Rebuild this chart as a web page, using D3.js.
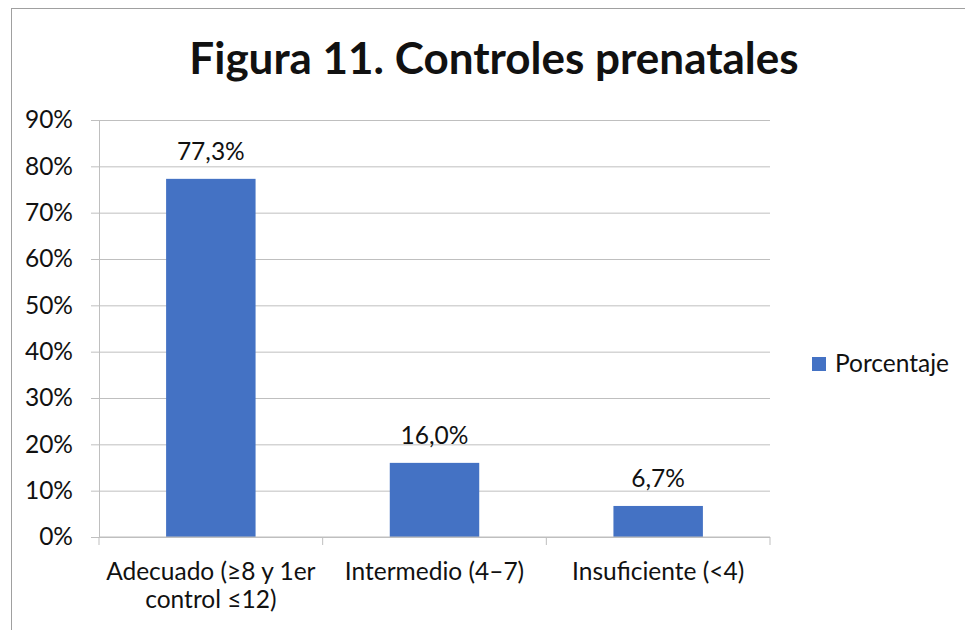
<!DOCTYPE html>
<html>
<head>
<meta charset="utf-8">
<script src="https://cdn.jsdelivr.net/npm/d3@7"></script>
<style>
  body { margin: 0; background: #fff; }
  text { font-family: Lato, "Noto Sans", sans-serif; fill: #111; }
</style>
</head>
<body>
<div class="chart"></div>
<script>
// Figura 11 - controles prenatales

const CATEGORIES = ['Adecuado (≥8 y 1er control ≤12)', 'Intermedio (4–7)', 'Insuficiente (<4)']
const VALUES = [0.773, 0.160, 0.067]
const VALUE_LABELS = ['77,3%', '16,0%', '6,7%']
const Y_TICKS = [0, 0.1, 0.2, 0.3, 0.4, 0.5, 0.6, 0.7, 0.8, 0.9]
const SERIES = 'Porcentaje'
const TITLE = 'Figura 11. Controles prenatales'

var svgWidth = 965
var svgHeight = 630

var margin = {
    top: 120,
    left: 99,
    right: 195,
    bottom: 93
}

var width = svgWidth - margin.left - margin.right
var height = svgHeight - margin.top - margin.bottom

var svg = d3.select('.chart')
    .append('svg')
    .attr('width', svgWidth)
    .attr('height', svgHeight)

svg.append('rect')
    .attr('width', svgWidth)
    .attr('height', svgHeight)
    .attr('fill', '#fff')

// chart frame (runs off the picture at right and bottom)
svg.append('rect')
    .attr('x', 11.5)
    .attr('y', 8.5)
    .attr('width', 1000)
    .attr('height', 1000)
    .attr('fill', 'none')
    .attr('stroke', '#a0a0a0')
    .attr('stroke-width', 1)

svg.append('text')
    .attr('x', 494)
    .attr('y', 74)
    .attr('text-anchor', 'middle')
    .attr('font-size', '44px')
    .attr('font-weight', 'bold')
    .text(TITLE)

var chartGroup = svg.append('g')
    .attr('transform', `translate(${margin.left}, ${margin.top})`)

var yScale = d3.scaleLinear()
    .domain([0, 0.9])
    .range([height, 0])

var xScale = d3.scaleBand()
    .domain(CATEGORIES)
    .range([0, width])
    .padding(0)

// gridlines
var grid = chartGroup.append('g')
    .call(d3.axisLeft(yScale).tickValues(Y_TICKS).tickSize(-width).tickFormat(''))
grid.select('.domain').remove()
grid.selectAll('line').attr('stroke', '#bfbfbf')

// y axis
var yAxis = chartGroup.append('g')
    .call(d3.axisLeft(yScale).tickValues(Y_TICKS).tickSize(8).tickPadding(18).tickFormat(d3.format('.0%')))
yAxis.select('.domain').attr('stroke', '#bfbfbf')
yAxis.selectAll('line').attr('stroke', '#bfbfbf')
yAxis.selectAll('text')
    .attr('font-size', '24.5px')
    .attr('font-family', 'Lato, sans-serif')
    .attr('fill', '#111')

// bars
var barW = xScale.bandwidth() * 0.4
chartGroup.selectAll('.bar')
    .data(VALUES)
    .enter()
    .append('rect')
    .classed('bar', true)
    .attr('x', (d, i) => xScale(CATEGORIES[i]) + (xScale.bandwidth() - barW) / 2)
    .attr('y', d => yScale(d))
    .attr('width', barW)
    .attr('height', d => height - yScale(d))
    .attr('fill', '#4472C4')

chartGroup.selectAll('.vlabel')
    .data(VALUES)
    .enter()
    .append('text')
    .classed('vlabel', true)
    .attr('x', (d, i) => xScale(CATEGORIES[i]) + xScale.bandwidth() / 2)
    .attr('y', d => yScale(d) - 19)
    .attr('text-anchor', 'middle')
    .attr('font-size', '24.5px')
    .text((d, i) => VALUE_LABELS[i])

// x axis: ticks on band edges
var xAxis = chartGroup.append('g')
    .attr('transform', `translate(0, ${height})`)
xAxis.append('line')
    .attr('x1', 0).attr('x2', width)
    .attr('stroke', '#bfbfbf')
var edges = CATEGORIES.map(c => xScale(c)).concat([xScale(CATEGORIES[CATEGORIES.length - 1]) + xScale.bandwidth()])
xAxis.selectAll('.edge')
    .data(edges)
    .enter()
    .append('line')
    .attr('x1', d => d).attr('x2', d => d)
    .attr('y1', 0).attr('y2', 8)
    .attr('stroke', '#bfbfbf')

var catLabels = xAxis.selectAll('.cat')
    .data(CATEGORIES)
    .enter()
    .append('text')
    .classed('cat', true)
    .attr('x', d => xScale(d) + xScale.bandwidth() / 2)
    .attr('y', 43)
    .attr('text-anchor', 'middle')
    .attr('font-size', '24.5px')
    .text(d => d)
    .call(wrap, xScale.bandwidth() - 8)

function wrap(texts, w) {
    texts.each(function() {
        var t = d3.select(this)
        var words = t.text().split(' ')
        var x = t.attr('x')
        t.text(null)
        var line = []
        var tspan = t.append('tspan').attr('x', x).attr('dy', 0)
        words.forEach(word => {
            line.push(word)
            tspan.text(line.join(' '))
            if (tspan.node().getComputedTextLength() > w && line.length > 1) {
                line.pop()
                tspan.text(line.join(' '))
                line = [word]
                tspan = t.append('tspan').attr('x', x).attr('dy', 28).text(word)
            }
        })
    })
}

// legend
var legend = svg.append('g')
    .attr('transform', 'translate(812, 357)')
legend.append('rect')
    .attr('width', 14)
    .attr('height', 14)
    .attr('fill', '#4472C4')
legend.append('text')
    .attr('x', 23)
    .attr('y', 15)
    .attr('font-size', '24.5px')
    .text(SERIES)
</script>
</body>
</html>
